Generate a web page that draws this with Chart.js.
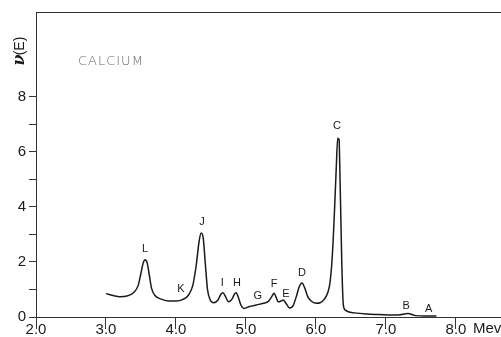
<!DOCTYPE html>
<html><head><meta charset="utf-8">
<script src="https://cdn.jsdelivr.net/npm/chart.js@4/dist/chart.umd.min.js"></script>
<style>html,body{margin:0;padding:0;background:#fff}#wrap{width:501px;height:337px;position:relative}</style>
</head><body><div id="wrap"><canvas id="c" width="501" height="337"></canvas></div>
<script>
const energyMeV = [3.00,3.10,3.20,3.30,3.40,3.46,3.50,3.53,3.56,3.59,3.62,3.65,3.70,3.80,3.90,4.00,4.10,4.18,4.24,4.29,4.33,4.36,4.39,4.42,4.45,4.49,4.54,4.60,4.64,4.67,4.70,4.75,4.80,4.84,4.86,4.89,4.93,4.97,5.05,5.15,5.25,5.32,5.37,5.40,5.43,5.46,5.50,5.53,5.57,5.62,5.67,5.72,5.76,5.80,5.84,5.88,5.93,6.00,6.06,6.12,6.17,6.20,6.23,6.26,6.29,6.31,6.33,6.34,6.36,6.37,6.39,6.42,6.46,6.55,6.72,6.90,7.10,7.20,7.28,7.32,7.36,7.42,7.55,7.72];
const nuE = [0.85,0.78,0.74,0.76,0.90,1.15,1.60,1.95,2.08,1.95,1.50,1.05,0.78,0.64,0.58,0.58,0.64,0.80,1.15,1.90,2.75,3.05,2.85,1.90,1.00,0.62,0.52,0.62,0.82,0.88,0.78,0.55,0.65,0.85,0.88,0.72,0.42,0.31,0.38,0.44,0.50,0.57,0.75,0.86,0.72,0.55,0.58,0.62,0.50,0.33,0.40,0.75,1.10,1.24,1.05,0.75,0.58,0.50,0.52,0.65,0.90,1.25,2.10,3.60,5.45,6.50,6.45,5.45,3.00,1.82,0.45,0.25,0.19,0.15,0.11,0.09,0.07,0.08,0.12,0.13,0.10,0.05,0.04,0.04];
const xTickValues = [2,3,4,5,6,7,8];
const yTickValues = [0,1,2,3,4,5,6,7,8];
const peakNames  = ['L','K','J','I','H','G','F','E','D','C','B','A'];
const peakLabelX = [3.557,4.07,4.37,4.66,4.87,5.17,5.40,5.57,5.80,6.30,7.29,7.61];
const peakLabelY = [2.46,1.01,3.44,1.23,1.23,0.76,1.20,0.83,1.59,6.96,0.40,0.29];
const titleText = 'CALCIUM';
const yAxisSymbol = 'ν';
const yAxisArg = '(E)';
const xUnit = 'Mev';

const points = energyMeV.map((x,i)=>({x:x,y:nuE[i]}));
const ink = '#1a1a1a';

const deco = {
  id:'deco',
  afterDraw(chart){
    const ctx = chart.ctx, a = chart.chartArea;
    const xs = chart.scales.x, ys = chart.scales.y;
    ctx.save();
    ctx.strokeStyle = '#333'; ctx.lineWidth = 1;
    ctx.beginPath(); ctx.moveTo(a.left, a.top+0.5); ctx.lineTo(a.right, a.top+0.5); ctx.stroke();
    ctx.fillStyle = ink; ctx.font = '11px "Liberation Sans", Arial, sans-serif';
    ctx.textAlign = 'center'; ctx.textBaseline = 'middle';
    peakNames.forEach((n,i)=>{
      ctx.fillText(n, xs.getPixelForValue(peakLabelX[i]), ys.getPixelForValue(peakLabelY[i]));
    });
    ctx.fillStyle = '#666'; ctx.font = '300 13px "DejaVu Sans", sans-serif';
    ctx.textAlign = 'left';
    try { ctx.letterSpacing = '1px'; } catch(e) {}
    ctx.fillText(titleText, a.left + 42, a.top + 50);
    try { ctx.letterSpacing = '0px'; } catch(e) {}
    ctx.fillStyle = ink; ctx.font = '15px "Liberation Sans", Arial, sans-serif';
    ctx.fillText(xUnit, 473, 329);
    ctx.translate(20, 0); ctx.rotate(-Math.PI/2);
    ctx.textAlign = 'center';
    ctx.font = 'italic bold 16px "DejaVu Serif", serif';
    ctx.fillText(yAxisSymbol, -60, 0);
    ctx.font = '14px "Liberation Sans", Arial, sans-serif';
    ctx.fillText(yAxisArg, -46, 0);
    ctx.restore();
  }
};

new Chart(document.getElementById('c'), {
  type:'line',
  data:{datasets:[{data:points, borderColor:ink, borderWidth:1.5, pointRadius:0, fill:false, cubicInterpolationMode:'monotone'}]},
  options:{
    responsive:false, animation:false, devicePixelRatio:1,
    layout:{padding:{top:11,right:0,left:0,bottom:0}},
    plugins:{legend:{display:false}, tooltip:{enabled:false}},
    scales:{
      x:{type:'linear', min:2, max:8.643,
        afterBuildTicks(s){ s.ticks = xTickValues.map(v=>({value:v})); },
        afterFit(s){ s.height = 20; },
        border:{display:true,color:'#333',width:1},
        grid:{drawOnChartArea:false, drawTicks:true, tickLength:12, color:'#333'},
        ticks:{color:ink, padding:-8, font:{family:'"Liberation Sans", Arial, sans-serif', size:15}, callback:v=>Number(v).toFixed(1), maxRotation:0}
      },
      y:{type:'linear', min:0, max:11.09,
        afterBuildTicks(s){ s.ticks = yTickValues.map(v=>({value:v})); },
        afterFit(s){ s.width = 36; },
        border:{display:true,color:'#333',width:1},
        grid:{drawOnChartArea:false, drawTicks:true, tickLength:7, color:'#333'},
        ticks:{color:ink, padding:3, font:{family:'"Liberation Sans", Arial, sans-serif', size:15}, callback:v=>(v%2===0?String(v):'')}
      }
    }
  },
  plugins:[deco]
});
</script></body></html>
